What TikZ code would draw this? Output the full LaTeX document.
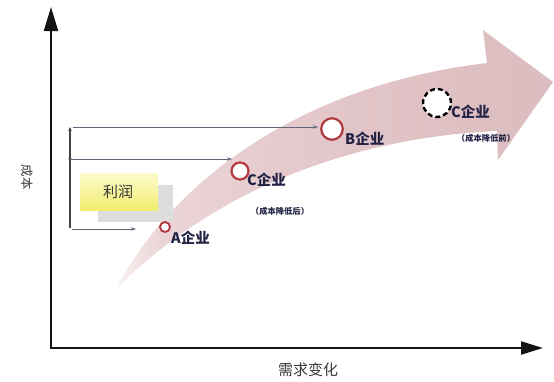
\documentclass[tikz,border=0pt]{standalone}
\usepackage{fontspec}
\newfontfamily\cjk{Noto Sans CJK SC}
\usetikzlibrary{arrows.meta}
\definecolor{bandT}{RGB}{248,240,241}
\definecolor{bandL}{RGB}{235,212,215}
\definecolor{bandM}{RGB}{227,198,201}
\definecolor{bandD}{RGB}{219,188,191}
\pgfdeclarehorizontalshading{bandshade}{100bp}{color(0bp)=(bandT); color(25bp)=(bandT); color(30bp)=(bandL); color(50bp)=(bandM); color(75bp)=(bandD); color(100bp)=(bandD)}
\definecolor{ringred}{RGB}{178,58,64}
\definecolor{labelc}{RGB}{35,35,70}
\definecolor{guidec}{RGB}{95,105,122}
\definecolor{axisc}{RGB}{20,20,20}
\definecolor{shadowg}{RGB}{221,221,221}
\definecolor{yellowL}{RGB}{252,251,205}
\definecolor{yellowD}{RGB}{241,237,110}
\definecolor{textg}{RGB}{55,55,55}
\begin{document}
\begin{tikzpicture}[x=1pt,y=-1pt,
  ring/.style={circle,draw=ringred,fill=white,line width=2.2pt,inner sep=0pt},
  dashring/.style={circle,draw=black,fill=white,line width=2.4pt,dash pattern=on 5pt off 3pt,inner sep=0pt},
  lbl/.style={font=\cjk\bfseries\fontsize{14.5}{14.5}\selectfont,text=labelc,inner sep=0pt,anchor=west},
  note/.style={font=\cjk\bfseries\fontsize{8.3}{8.3}\selectfont,text=labelc,inner sep=0pt},
  guide/.style={draw=guidec,line width=0.8pt},
  gtip/.style={-{Stealth[length=5pt,width=3.5pt]}}
]
\useasboundingbox (0,0) rectangle (554,381);
% curved band arrow
\path[shading=bandshade]
  (117,288) .. controls (150,220) and (260,90) .. (487,63)
  -- (483,30) -- (553,82) -- (498,160) -- (497,131)
  .. controls (400,135) and (240,165) .. (117,288) -- cycle;
% axes
\coordinate (ytip) at (51,7);
\coordinate (orig) at (51,348);
\coordinate (xtip) at (543,348);
\draw[axisc,line width=2.2pt,line join=miter,
  {Triangle[length=24pt,width=14pt]}-{Triangle[length=22pt,width=13pt]}]
  (ytip) -- (orig) -- (xtip);
\node[font=\cjk\fontsize{12.5}{12.5}\selectfont,text=textg,rotate=-90] (ylab) at (27,177) {成本};
\node[font=\cjk\fontsize{15}{15}\selectfont,text=textg] (xlab) at (308,370) {需求变化};
% profit box
\fill[shadowg] (98,185) rectangle (173,222);
\path[top color=yellowL, bottom color=yellowD] (80,173) rectangle (158,210);
\node[font=\cjk\fontsize{15}{15}\selectfont,text=textg] (profit) at (118,192) {利润};
% guide lines
\coordinate (vb) at (70,228);
\coordinate (vm) at (70,159);
\coordinate (vt) at (70,127);
\coordinate (ht0) at (73,127);
\coordinate (ht1) at (318,127);
\coordinate (hm1) at (232,159);
\coordinate (hb0) at (72,229);
\coordinate (hb1) at (136,229);
\draw[draw=axisc!80,line width=1.4pt,-{Stealth[length=4pt,width=3.5pt]}] (vb) -- (vt);
\fill[axisc!80] (vm) circle (1.6pt);
\draw[guide,gtip] (ht0) -- (ht1);
\draw[guide,gtip] (vm) -- (hm1);
\draw[guide,gtip] (hb0) -- (hb1);
% companies
\node[ring,minimum size=10pt,line width=1.9pt] (A) at (165,227) {};
\node[ring,minimum size=17pt] (Cn) at (240,171) {};
\node[ring,minimum size=21.5pt] (B) at (332,129) {};
\node[dashring,minimum size=28pt] (Co) at (437,103) {};
\node[lbl] (Alab) at (171,238) {A企业};
\node[lbl] (Cnlab) at (247,180) {C企业};
\node[note] (Cnnote) at (280,211) {（成本降低后）};
\node[lbl] (Blab) at (345,139) {B企业};
\node[lbl] (Colab) at (451,112) {C企业};
\node[note] (Conote) at (486,138) {（成本降低前）};
\end{tikzpicture}
\end{document}
